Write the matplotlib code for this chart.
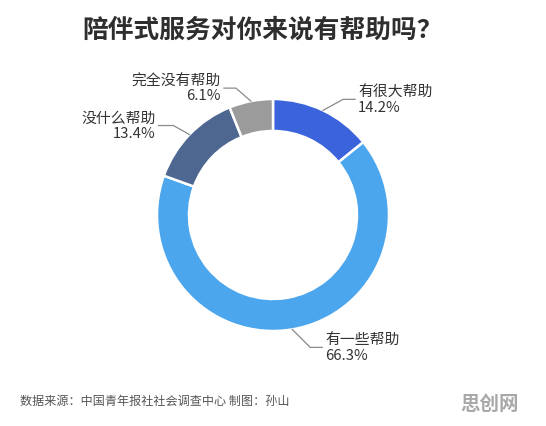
import matplotlib
matplotlib.use("Agg")
import matplotlib.pyplot as plt
import numpy as np

plt.rcParams['font.family'] = ['Noto Sans CJK SC', 'DejaVu Sans']

# data
categories = ["有很大帮助", "有一些帮助", "没什么帮助", "完全没有帮助"]
shares = [14.2, 66.3, 13.4, 6.1]
colors = ["#3b63dc", "#4ba6ee", "#4d6791", "#9b9b9b"]

title = "陪伴式服务对你来说有帮助吗？"
source = "数据来源：中国青年报社社会调查中心 制图：孙山"
mark = "思创网"

# layout (pixel coords, y down)
W, H = 546, 427
cx, cy, r_out, ring = 273, 216, 116, 32
# elbow offset (dx, dy) from anchor, horizontal run, text side
leaders = [(20, -11, 12, 'left'), (18, 18, 12, 'left'),
           (-16, -9, 15, 'right'), (-15, -13, 12, 'right')]

fig = plt.figure(figsize=(W / 100, H / 100), dpi=100)
ax = fig.add_axes([0, 0, 1, 1])

# y axis is inverted below, so start at -90 and go counterclockwise in
# data coords -> clockwise from 12 o'clock on screen
wedges, _ = ax.pie(shares, colors=colors, startangle=-90, counterclock=True,
                   center=(cx, cy), radius=r_out,
                   wedgeprops=dict(width=ring, edgecolor='white', linewidth=1.8))
ax.set_xlim(0, W)
ax.set_ylim(H, 0)
ax.axis('off')

for w, name, val, (dx, dy, run, side) in zip(wedges, categories, shares, leaders):
    ang = np.deg2rad((w.theta1 + w.theta2) / 2)
    px = cx + r_out * np.cos(ang)
    py = cy + r_out * np.sin(ang)
    ex, ey = px + dx, py + dy
    sgn = 1 if side == 'left' else -1
    hx = ex + sgn * run
    ax.plot([px, ex, hx], [py, ey, ey], color='#8a8a8a', lw=0.9)
    ax.text(hx + sgn * 3, ey, f"{name}\n{val}%", ha=side, va='center',
            multialignment=side, fontsize=10.7, color='#333333', linespacing=1.05)

fig.text(82 / W, 1 - 30 / H, title, ha='left', va='center', fontsize=18.5,
         color='#2e2e2e', fontweight='bold')
fig.text(20 / W, 1 - 401 / H, source, ha='left', va='center', fontsize=8.7,
         color='#555555')
fig.text(519 / W, 1 - 404 / H, mark, ha='right', va='center', fontsize=14,
         color='#a8a8a8', fontweight='bold')

fig.savefig("out.png", dpi=100, facecolor='white')
